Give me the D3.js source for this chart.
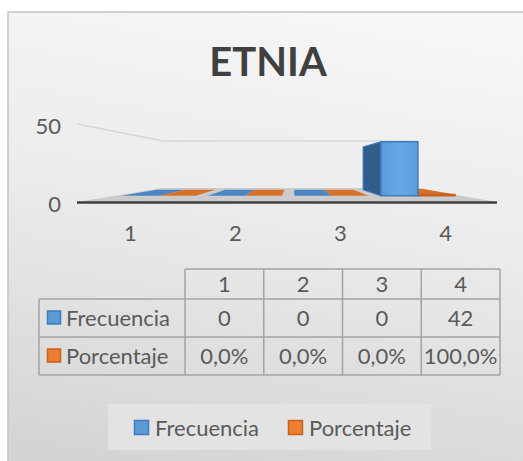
<!DOCTYPE html>
<html>
<head>
<meta charset="utf-8">
<script src="https://cdn.jsdelivr.net/npm/d3@7/dist/d3.min.js"></script>
<style>
  body { margin: 0; background: #fff; }
  text { font-family: Lato, "Open Sans", sans-serif; }
</style>
</head>
<body>
<svg id="chart" width="523" height="461"></svg>
<script>
// ---- data ----
var categories   = ['1', '2', '3', '4'];
var seriesNames  = ['Frecuencia', 'Porcentaje'];
var frecuencia   = [0, 0, 0, 42];
var porcentaje   = [0, 0, 0, 1];          // 100% drawn as 1 on the value axis
var frecLabels   = ['0', '0', '0', '42'];
var porcLabels   = ['0,0%', '0,0%', '0,0%', '100,0%'];
var yTicks       = [0, 50];
var seriesColors = { Frecuencia: '#5b9bd5', Porcentaje: '#ed7d31' };
var topColors    = { Frecuencia: '#4a86c4', Porcentaje: '#d8702a' };
var sideColors   = { Frecuencia: '#2f5d8c', Porcentaje: '#a8521c' };
var edgeColors   = { Frecuencia: '#3f7bbf', Porcentaje: '#c4621f' };

var svg = d3.select('#chart');
var FONT = 22;
var TEXT = '#5a5a5a';

// ---- background ----
var defs = svg.append('defs');
var bg = defs.append('linearGradient').attr('id', 'bg')
  .attr('x1', 0.6).attr('y1', 0).attr('x2', 0.4).attr('y2', 1);
bg.append('stop').attr('offset', '0%').attr('stop-color', '#f6f6f6');
bg.append('stop').attr('offset', '45%').attr('stop-color', '#ebebeb');
bg.append('stop').attr('offset', '100%').attr('stop-color', '#d4d4d4');

var face = defs.append('linearGradient').attr('id', 'face')
  .attr('x1', 0).attr('y1', 0).attr('x2', 1).attr('y2', 0);
face.append('stop').attr('offset', '0%').attr('stop-color', '#5a9ad8');
face.append('stop').attr('offset', '50%').attr('stop-color', '#68a8e6');
face.append('stop').attr('offset', '100%').attr('stop-color', '#5b9bd9');

svg.append('rect')
  .attr('x', 8).attr('y', 12).attr('width', 540).attr('height', 470)
  .attr('fill', 'url(#bg)').attr('stroke', '#c4c4c4').attr('stroke-width', 1.5);

// ---- title ----
svg.append('text')
  .attr('x', 268).attr('y', 76)
  .attr('text-anchor', 'middle')
  .attr('font-size', 40).attr('font-weight', 700)
  .attr('fill', '#404040')
  .text('ETNIA');

// ---- scales (front plane) ----
var x0 = d3.scaleBand().domain(categories).range([77, 497])
  .paddingInner(0.143).paddingOuter(0.0714);
var x1 = d3.scaleBand().domain(seriesNames).range([0, x0.bandwidth()]);
var y  = d3.scaleLinear().domain([0, 50]).range([202, 124]);

// simple perspective toward a vanishing point
var VX = 293.6, VY = 166.7, C = 0.658;
var D_FRONT = 0.325, D_BACK = 0.797;   // bar depth inside the floor (0 = front, 1 = back wall)

function project(xf, v, d) {
  var s = 1 / (1 + C * d);
  return [VX + (xf - VX) * s, VY + (y(v) - VY) * s];
}
function poly(pts) {
  return pts.map(function(p) { return p[0].toFixed(2) + ',' + p[1].toFixed(2); }).join(' ');
}

var plot = svg.append('g');

// floor
plot.append('polygon')
  .attr('points', poly([project(77, 0, 0), project(497, 0, 0), project(497, 0, 1), project(77, 0, 1)]))
  .attr('fill', '#cbcbcb');

// gridline at 50 (left wall + back wall)
plot.append('polyline')
  .attr('points', poly([project(77, 50, 0), project(77, 50, 1), project(497, 50, 1)]))
  .attr('fill', 'none').attr('stroke', '#d6d6d6').attr('stroke-width', 1.5);

// front edge of floor
var fl = project(77, 0, 0), fr = project(497, 0, 0);
plot.append('line')
  .attr('x1', fl[0]).attr('y1', fl[1] + 0.5).attr('x2', fr[0]).attr('y2', fr[1] + 0.5)
  .attr('stroke', '#3f3f3f').attr('stroke-width', 2.5);

// ---- bars ----
var bars = [];
categories.forEach(function(c, i) {
  bars.push({ cat: c, series: 'Frecuencia', value: frecuencia[i] });
  bars.push({ cat: c, series: 'Porcentaje', value: porcentaje[i] });
});
bars.forEach(function(b) {
  b.xa = x0(b.cat) + x1(b.series);
  b.xb = b.xa + x1.bandwidth();
  b.mid = (b.xa + b.xb) / 2;
});
// paint the bars farthest from the vanishing point first
bars.sort(function(a, b) { return Math.abs(b.mid - VX) - Math.abs(a.mid - VX); });

var barG = plot.append('g');
bars.forEach(function(b) {
  var g = barG.append('g');
  // top face (seen from above)
  g.append('polygon')
    .attr('points', poly([project(b.xa, b.value, D_FRONT), project(b.xb, b.value, D_FRONT),
                          project(b.xb, b.value, D_BACK), project(b.xa, b.value, D_BACK)]))
    .attr('fill', topColors[b.series]);
  if (b.value <= 0) return;
  // side face facing the vanishing point
  var xs = b.mid > VX ? b.xa : b.xb;
  g.append('polygon')
    .attr('points', poly([project(xs, 0, D_FRONT), project(xs, b.value, D_FRONT),
                          project(xs, b.value, D_BACK), project(xs, 0, D_BACK)]))
    .attr('fill', sideColors[b.series])
    .attr('stroke', edgeColors[b.series]).attr('stroke-width', 1);
  // front face
  g.append('polygon')
    .attr('points', poly([project(b.xa, 0, D_FRONT), project(b.xb, 0, D_FRONT),
                          project(b.xb, b.value, D_FRONT), project(b.xa, b.value, D_FRONT)]))
    .attr('fill', b.series === 'Frecuencia' ? 'url(#face)' : seriesColors[b.series])
    .attr('stroke', edgeColors[b.series]).attr('stroke-width', 1.5);
});

// ---- axes labels ----
plot.append('g').selectAll('text')
  .data(yTicks).enter().append('text')
  .attr('x', 61).attr('y', function(d) { return y(d) + 2; })
  .attr('dy', '0.35em')
  .attr('text-anchor', 'end')
  .attr('font-size', FONT).attr('fill', TEXT)
  .text(function(d) { return d; });

plot.append('g').selectAll('text')
  .data(categories).enter().append('text')
  .attr('x', function(d) { return x0(d) + x0.bandwidth() / 2 + 1; })
  .attr('y', 233).attr('dy', '0.35em')
  .attr('text-anchor', 'middle')
  .attr('font-size', FONT).attr('fill', TEXT)
  .text(function(d) { return d; });

// ---- data table ----
var tx = d3.scaleBand().domain(categories).range([185, 500]);
var rowTop = [269, 299, 337, 375];   // header, Frecuencia, Porcentaje, bottom
var table = svg.append('g');
var lineColor = '#a3a3a3';

function hline(xa, xb, yy) {
  table.append('line').attr('x1', xa).attr('x2', xb).attr('y1', yy).attr('y2', yy)
    .attr('stroke', lineColor).attr('stroke-width', 1.5);
}
function vline(xx, ya, yb) {
  table.append('line').attr('x1', xx).attr('x2', xx).attr('y1', ya).attr('y2', yb)
    .attr('stroke', lineColor).attr('stroke-width', 1.5);
}
hline(185, 500, rowTop[0]);
hline(39, 500, rowTop[1]);
hline(39, 500, rowTop[2]);
hline(39, 500, rowTop[3]);
vline(39, rowTop[1], rowTop[3]);
categories.forEach(function(c) { vline(tx(c), rowTop[0], rowTop[3]); });
vline(500, rowTop[0], rowTop[3]);

table.append('g').selectAll('text')
  .data(categories).enter().append('text')
  .attr('x', function(d) { return tx(d) + tx.bandwidth() / 2; })
  .attr('y', (rowTop[0] + rowTop[1]) / 2).attr('dy', '0.35em')
  .attr('text-anchor', 'middle').attr('font-size', FONT).attr('fill', TEXT)
  .text(function(d) { return d; });

var rows = [
  { name: 'Frecuencia', labels: frecLabels, top: rowTop[1], bottom: rowTop[2] },
  { name: 'Porcentaje', labels: porcLabels, top: rowTop[2], bottom: rowTop[3] }
];
rows.forEach(function(r) {
  var cy = (r.top + r.bottom) / 2;
  table.append('rect')
    .attr('x', 47.5).attr('y', cy - 7).attr('width', 13).attr('height', 13)
    .attr('fill', seriesColors[r.name]).attr('stroke', edgeColors[r.name]).attr('stroke-width', 1.5);
  table.append('text')
    .attr('x', 66).attr('y', cy).attr('dy', '0.35em')
    .attr('font-size', FONT).attr('fill', TEXT)
    .text(r.name);
  table.append('g').selectAll('text')
    .data(r.labels).enter().append('text')
    .attr('x', function(d, i) { return tx(categories[i]) + tx.bandwidth() / 2; })
    .attr('y', cy).attr('dy', '0.35em')
    .attr('text-anchor', 'middle').attr('font-size', FONT).attr('fill', TEXT)
    .text(function(d) { return d; });
});

// ---- legend ----
var legend = svg.append('g');
legend.append('rect')
  .attr('x', 108).attr('y', 404).attr('width', 323).attr('height', 46)
  .attr('fill', '#e3e3e3');
var legendX = [134, 288];
seriesNames.forEach(function(s, i) {
  legend.append('rect')
    .attr('x', legendX[i] + 0.5).attr('y', 420.5).attr('width', 14).attr('height', 14)
    .attr('fill', seriesColors[s]).attr('stroke', edgeColors[s]).attr('stroke-width', 1.5);
  legend.append('text')
    .attr('x', legendX[i] + 21).attr('y', 428).attr('dy', '0.35em')
    .attr('font-size', FONT).attr('fill', TEXT)
    .text(s);
});
</script>
</body>
</html>
